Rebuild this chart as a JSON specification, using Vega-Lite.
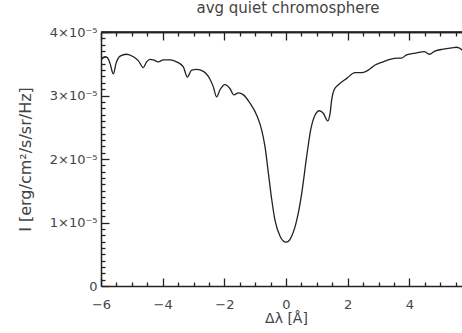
{
  "$schema": "https://vega.github.io/schema/vega-lite/v6.json",
  "width": 362,
  "height": 254,
  "autosize": "none",
  "padding": {"left": 101, "top": 32, "right": 0, "bottom": 47},
  "background": "white",
  "config": {
    "view": {"stroke": null},
    "font": "DejaVu Sans",
    "axis": {
      "domainColor": "#222222",
      "domainWidth": 1.5,
      "tickColor": "#222222",
      "tickWidth": 1.3,
      "labelColor": "#444444",
      "titleColor": "#444444",
      "labelFont": "DejaVu Sans",
      "titleFont": "DejaVu Sans",
      "titleFontWeight": "normal",
      "grid": false,
      "labelOverlap": false,
      "labelFlush": false
    }
  },
  "title": {
    "text": "avg quiet chromosphere",
    "font": "DejaVu Sans",
    "fontSize": 15,
    "fontWeight": "normal",
    "color": "#444444",
    "anchor": "middle",
    "frame": "group",
    "dx": 6,
    "offset": 8
  },
  "data": {
    "values": [
      {"dl": -6.0, "I": 3.56e-5},
      {"dl": -5.87, "I": 3.61e-5},
      {"dl": -5.8, "I": 3.6e-5},
      {"dl": -5.71, "I": 3.51e-5},
      {"dl": -5.6, "I": 3.34e-5},
      {"dl": -5.51, "I": 3.51e-5},
      {"dl": -5.38, "I": 3.62e-5},
      {"dl": -5.17, "I": 3.65e-5},
      {"dl": -4.95, "I": 3.61e-5},
      {"dl": -4.79, "I": 3.55e-5},
      {"dl": -4.63, "I": 3.44e-5},
      {"dl": -4.52, "I": 3.53e-5},
      {"dl": -4.41, "I": 3.57e-5},
      {"dl": -4.3, "I": 3.56e-5},
      {"dl": -4.14, "I": 3.53e-5},
      {"dl": -3.98, "I": 3.56e-5},
      {"dl": -3.76, "I": 3.56e-5},
      {"dl": -3.55, "I": 3.53e-5},
      {"dl": -3.33, "I": 3.45e-5},
      {"dl": -3.2, "I": 3.29e-5},
      {"dl": -3.06, "I": 3.4e-5},
      {"dl": -2.9, "I": 3.41e-5},
      {"dl": -2.68, "I": 3.38e-5},
      {"dl": -2.47, "I": 3.26e-5},
      {"dl": -2.36, "I": 3.14e-5},
      {"dl": -2.25, "I": 2.98e-5},
      {"dl": -2.14, "I": 3.09e-5},
      {"dl": -1.98, "I": 3.17e-5},
      {"dl": -1.82, "I": 3.11e-5},
      {"dl": -1.69, "I": 3.01e-5},
      {"dl": -1.55, "I": 3.04e-5},
      {"dl": -1.38, "I": 3.01e-5},
      {"dl": -1.17, "I": 2.88e-5},
      {"dl": -0.95, "I": 2.69e-5},
      {"dl": -0.79, "I": 2.46e-5},
      {"dl": -0.68, "I": 2.19e-5},
      {"dl": -0.57, "I": 1.77e-5},
      {"dl": -0.46, "I": 1.35e-5},
      {"dl": -0.36, "I": 1.04e-5},
      {"dl": -0.19, "I": 0.78e-5},
      {"dl": -0.09, "I": 0.71e-5},
      {"dl": 0.0, "I": 0.69e-5},
      {"dl": 0.09, "I": 0.71e-5},
      {"dl": 0.18, "I": 0.78e-5},
      {"dl": 0.35, "I": 1.04e-5},
      {"dl": 0.51, "I": 1.46e-5},
      {"dl": 0.67, "I": 2.04e-5},
      {"dl": 0.8, "I": 2.46e-5},
      {"dl": 0.94, "I": 2.69e-5},
      {"dl": 1.08, "I": 2.76e-5},
      {"dl": 1.21, "I": 2.72e-5},
      {"dl": 1.35, "I": 2.6e-5},
      {"dl": 1.43, "I": 2.72e-5},
      {"dl": 1.48, "I": 2.93e-5},
      {"dl": 1.56, "I": 3.09e-5},
      {"dl": 1.7, "I": 3.17e-5},
      {"dl": 1.97, "I": 3.27e-5},
      {"dl": 2.24, "I": 3.36e-5},
      {"dl": 2.46, "I": 3.36e-5},
      {"dl": 2.67, "I": 3.4e-5},
      {"dl": 2.89, "I": 3.48e-5},
      {"dl": 3.1, "I": 3.52e-5},
      {"dl": 3.37, "I": 3.57e-5},
      {"dl": 3.64, "I": 3.59e-5},
      {"dl": 3.75, "I": 3.59e-5},
      {"dl": 3.91, "I": 3.64e-5},
      {"dl": 4.24, "I": 3.67e-5},
      {"dl": 4.48, "I": 3.69e-5},
      {"dl": 4.65, "I": 3.65e-5},
      {"dl": 4.83, "I": 3.7e-5},
      {"dl": 5.1, "I": 3.73e-5},
      {"dl": 5.37, "I": 3.75e-5},
      {"dl": 5.54, "I": 3.76e-5},
      {"dl": 5.7, "I": 3.72e-5},
      {"dl": 5.74, "I": 3.7e-5}
    ]
  },
  "layer": [
    {
      "mark": {"type": "line", "opacity": 0, "clip": true},
      "encoding": {
        "x": {
          "field": "dl", "type": "quantitative",
          "scale": {"domain": [-6, 5.74], "nice": false, "zero": false},
          "axis": {
            "orient": "top",
            "title": null,
            "labelColor": "transparent",
            "domainColor": "#222222",
            "tickColor": "#222222",
            "values": [-6, -4, -2, 0, 2, 4],
            "tickSize": -8
          }
        },
        "y": {
          "field": "I", "type": "quantitative",
          "scale": {"domain": [0, 4e-5], "nice": false, "zero": true},
          "axis": null
        }
      }
    },
    {
      "mark": {"type": "line", "opacity": 0, "clip": true},
      "encoding": {
        "x": {
          "field": "dl", "type": "quantitative",
          "axis": {
            "orient": "top",
            "title": null,
            "labelColor": "transparent",
            "domainColor": "#222222",
            "tickColor": "#222222",
            "values": [-5.5, -5, -4.5, -3.5, -3, -2.5, -1.5, -1, -0.5, 0.5, 1, 1.5, 2.5, 3, 3.5, 4.5, 5, 5.5],
            "tickSize": -4
          }
        },
        "y": {"field": "I", "type": "quantitative", "axis": null}
      }
    },
    {
      "data": {"values": [{}]},
      "mark": {"type": "rule", "color": "#222222", "strokeWidth": 1.5},
      "encoding": {
        "y": {"datum": 4e-5, "type": "quantitative", "axis": null}
      }
    },
    {
      "mark": {"type": "line", "color": "#222222", "strokeWidth": 1.3, "interpolate": "monotone", "clip": true},
      "encoding": {
        "x": {
          "field": "dl", "type": "quantitative",
          "axis": {
            "orient": "bottom",
            "title": "Δλ [Å]",
            "titleFontSize": 14,
            "titleX": 185,
            "titlePadding": 0,
            "labelFontSize": 13,
            "labelPadding": 20,
            "values": [-6, -4, -2, 0, 2, 4],
            "format": "d",
            "tickSize": -8
          }
        },
        "y": {
          "field": "I", "type": "quantitative",
          "axis": {
            "orient": "left",
            "title": "I [erg/cm²/s/sr/Hz]",
            "titleFontSize": 16,
            "titlePadding": 16,
            "labelFontSize": 13,
            "labelPadding": 12,
            "values": [0, 1e-5, 2e-5, 3e-5, 4e-5],
            "labelExpr": "datum.value === 0 ? '0' : round(datum.value * 1e5) + '×10⁻⁵'",
            "tickSize": -8
          }
        }
      }
    },
    {
      "mark": {"type": "line", "opacity": 0, "clip": true},
      "encoding": {
        "x": {
          "field": "dl", "type": "quantitative",
          "axis": {
            "orient": "bottom",
            "title": null,
            "labels": false,
            "domain": false,
            "values": [-5.5, -5, -4.5, -3.5, -3, -2.5, -1.5, -1, -0.5, 0.5, 1, 1.5, 2.5, 3, 3.5, 4.5, 5, 5.5],
            "tickSize": -4
          }
        },
        "y": {
          "field": "I", "type": "quantitative",
          "axis": {
            "orient": "left",
            "title": null,
            "labels": false,
            "domain": false,
            "values": [1e-6, 2e-6, 3e-6, 4e-6, 5e-6, 6e-6, 7e-6, 8e-6, 9e-6, 11e-6, 12e-6, 13e-6, 14e-6, 15e-6, 16e-6, 17e-6, 18e-6, 19e-6, 21e-6, 22e-6, 23e-6, 24e-6, 25e-6, 26e-6, 27e-6, 28e-6, 29e-6, 31e-6, 32e-6, 33e-6, 34e-6, 35e-6, 36e-6, 37e-6, 38e-6, 39e-6],
            "tickSize": -4
          }
        }
      }
    }
  ],
  "resolve": {"axis": {"x": "independent", "y": "independent"}}
}
